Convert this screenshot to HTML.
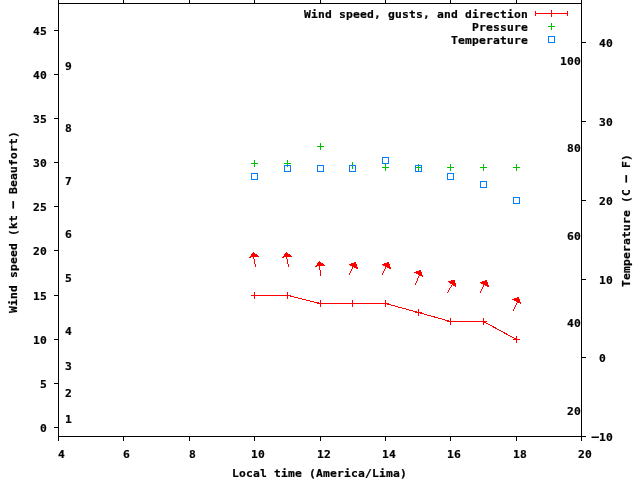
<!DOCTYPE html>
<html><head><meta charset="utf-8">
<style>
html,body{margin:0;padding:0;background:#fff;}
body{width:640px;height:480px;position:relative;overflow:hidden;}
svg{position:absolute;left:0;top:0;}
.t{position:absolute;font-family:'DejaVu Sans Mono','Liberation Mono',monospace;font-weight:bold;font-size:11.3px;letter-spacing:0.197px;line-height:13px;white-space:pre;color:#000;-webkit-text-stroke:0.2px #000;}
.r{transform-origin:0 0;transform:rotate(-90deg);}
.h{display:inline-block;transform:translateY(-1px) scaleX(2);}
</style></head><body>
<svg width="640" height="480" viewBox="0 0 640 480" shape-rendering="crispEdges">
<rect x="58" y="3" width="524" height="1" fill="#000"/>
<rect x="58" y="436" width="524" height="1" fill="#000"/>
<rect x="58" y="3" width="1" height="434" fill="#000"/>
<rect x="581" y="3" width="1" height="434" fill="#000"/>
<rect x="58" y="437" width="1" height="4" fill="#000"/>
<rect x="58" y="0" width="1" height="3" fill="#000"/>
<rect x="123" y="437" width="1" height="4" fill="#000"/>
<rect x="123" y="0" width="1" height="3" fill="#000"/>
<rect x="189" y="437" width="1" height="4" fill="#000"/>
<rect x="189" y="0" width="1" height="3" fill="#000"/>
<rect x="254" y="437" width="1" height="4" fill="#000"/>
<rect x="254" y="0" width="1" height="3" fill="#000"/>
<rect x="320" y="437" width="1" height="4" fill="#000"/>
<rect x="320" y="0" width="1" height="3" fill="#000"/>
<rect x="385" y="437" width="1" height="4" fill="#000"/>
<rect x="385" y="0" width="1" height="3" fill="#000"/>
<rect x="450" y="437" width="1" height="4" fill="#000"/>
<rect x="450" y="0" width="1" height="3" fill="#000"/>
<rect x="516" y="437" width="1" height="4" fill="#000"/>
<rect x="516" y="0" width="1" height="3" fill="#000"/>
<rect x="581" y="437" width="1" height="4" fill="#000"/>
<rect x="581" y="0" width="1" height="3" fill="#000"/>
<rect x="54" y="427" width="4" height="1" fill="#000"/>
<rect x="54" y="383" width="4" height="1" fill="#000"/>
<rect x="54" y="339" width="4" height="1" fill="#000"/>
<rect x="54" y="295" width="4" height="1" fill="#000"/>
<rect x="54" y="250" width="4" height="1" fill="#000"/>
<rect x="54" y="206" width="4" height="1" fill="#000"/>
<rect x="54" y="162" width="4" height="1" fill="#000"/>
<rect x="54" y="118" width="4" height="1" fill="#000"/>
<rect x="54" y="74" width="4" height="1" fill="#000"/>
<rect x="54" y="30" width="4" height="1" fill="#000"/>
<rect x="582" y="436" width="4" height="1" fill="#000"/>
<rect x="582" y="357" width="4" height="1" fill="#000"/>
<rect x="582" y="279" width="4" height="1" fill="#000"/>
<rect x="582" y="200" width="4" height="1" fill="#000"/>
<rect x="582" y="121" width="4" height="1" fill="#000"/>
<rect x="582" y="42" width="4" height="1" fill="#000"/>
<polyline points="254.5,295.5 287.5,295.5 320.5,303.5 352.5,303.5 385.5,303.5 418.5,312.5 450.5,321.5 483.5,321.5 516.5,339.5" fill="none" stroke="#ff0000" stroke-width="1"/>
<rect x="251" y="295" width="7" height="1" fill="#ff0000"/>
<rect x="254" y="292" width="1" height="7" fill="#ff0000"/>
<rect x="284" y="295" width="7" height="1" fill="#ff0000"/>
<rect x="287" y="292" width="1" height="7" fill="#ff0000"/>
<rect x="317" y="303" width="7" height="1" fill="#ff0000"/>
<rect x="320" y="300" width="1" height="7" fill="#ff0000"/>
<rect x="349" y="303" width="7" height="1" fill="#ff0000"/>
<rect x="352" y="300" width="1" height="7" fill="#ff0000"/>
<rect x="382" y="303" width="7" height="1" fill="#ff0000"/>
<rect x="385" y="300" width="1" height="7" fill="#ff0000"/>
<rect x="415" y="312" width="7" height="1" fill="#ff0000"/>
<rect x="418" y="309" width="1" height="7" fill="#ff0000"/>
<rect x="447" y="321" width="7" height="1" fill="#ff0000"/>
<rect x="450" y="318" width="1" height="7" fill="#ff0000"/>
<rect x="480" y="321" width="7" height="1" fill="#ff0000"/>
<rect x="483" y="318" width="1" height="7" fill="#ff0000"/>
<rect x="513" y="339" width="7" height="1" fill="#ff0000"/>
<rect x="516" y="336" width="1" height="7" fill="#ff0000"/>
<rect x="253" y="252" width="1" height="1" fill="#ff0000"/>
<rect x="252" y="253" width="3" height="1" fill="#ff0000"/>
<rect x="251" y="254" width="6" height="1" fill="#ff0000"/>
<rect x="251" y="255" width="7" height="1" fill="#ff0000"/>
<rect x="250" y="256" width="9" height="1" fill="#ff0000"/>
<rect x="249" y="257" width="2" height="1" fill="#ff0000"/>
<rect x="253" y="257" width="1" height="1" fill="#ff0000"/>
<rect x="253" y="258" width="1" height="1" fill="#ff0000"/>
<rect x="254" y="259" width="1" height="1" fill="#ff0000"/>
<rect x="254" y="260" width="1" height="1" fill="#ff0000"/>
<rect x="254" y="261" width="1" height="1" fill="#ff0000"/>
<rect x="254" y="262" width="1" height="1" fill="#ff0000"/>
<rect x="254" y="263" width="1" height="1" fill="#ff0000"/>
<rect x="255" y="264" width="1" height="1" fill="#ff0000"/>
<rect x="255" y="265" width="1" height="1" fill="#ff0000"/>
<rect x="255" y="266" width="1" height="1" fill="#ff0000"/>
<rect x="286" y="252" width="1" height="1" fill="#ff0000"/>
<rect x="285" y="253" width="3" height="1" fill="#ff0000"/>
<rect x="284" y="254" width="6" height="1" fill="#ff0000"/>
<rect x="284" y="255" width="7" height="1" fill="#ff0000"/>
<rect x="283" y="256" width="9" height="1" fill="#ff0000"/>
<rect x="282" y="257" width="2" height="1" fill="#ff0000"/>
<rect x="286" y="257" width="1" height="1" fill="#ff0000"/>
<rect x="286" y="258" width="1" height="1" fill="#ff0000"/>
<rect x="287" y="259" width="1" height="1" fill="#ff0000"/>
<rect x="287" y="260" width="1" height="1" fill="#ff0000"/>
<rect x="287" y="261" width="1" height="1" fill="#ff0000"/>
<rect x="287" y="262" width="1" height="1" fill="#ff0000"/>
<rect x="287" y="263" width="1" height="1" fill="#ff0000"/>
<rect x="288" y="264" width="1" height="1" fill="#ff0000"/>
<rect x="288" y="265" width="1" height="1" fill="#ff0000"/>
<rect x="288" y="266" width="1" height="1" fill="#ff0000"/>
<rect x="319" y="261" width="1" height="1" fill="#ff0000"/>
<rect x="318" y="262" width="3" height="1" fill="#ff0000"/>
<rect x="317" y="263" width="6" height="1" fill="#ff0000"/>
<rect x="317" y="264" width="7" height="1" fill="#ff0000"/>
<rect x="316" y="265" width="9" height="1" fill="#ff0000"/>
<rect x="315" y="266" width="2" height="1" fill="#ff0000"/>
<rect x="319" y="266" width="1" height="1" fill="#ff0000"/>
<rect x="319" y="267" width="1" height="1" fill="#ff0000"/>
<rect x="319" y="268" width="1" height="1" fill="#ff0000"/>
<rect x="319" y="269" width="1" height="1" fill="#ff0000"/>
<rect x="320" y="270" width="1" height="1" fill="#ff0000"/>
<rect x="320" y="271" width="1" height="1" fill="#ff0000"/>
<rect x="320" y="272" width="1" height="1" fill="#ff0000"/>
<rect x="320" y="273" width="1" height="1" fill="#ff0000"/>
<rect x="320" y="274" width="1" height="1" fill="#ff0000"/>
<rect x="320" y="275" width="1" height="1" fill="#ff0000"/>
<rect x="354" y="262" width="2" height="1" fill="#ff0000"/>
<rect x="351" y="263" width="5" height="1" fill="#ff0000"/>
<rect x="349" y="264" width="8" height="1" fill="#ff0000"/>
<rect x="350" y="265" width="7" height="1" fill="#ff0000"/>
<rect x="352" y="266" width="5" height="1" fill="#ff0000"/>
<rect x="352" y="267" width="1" height="1" fill="#ff0000"/>
<rect x="354" y="267" width="4" height="1" fill="#ff0000"/>
<rect x="352" y="268" width="1" height="1" fill="#ff0000"/>
<rect x="356" y="268" width="2" height="1" fill="#ff0000"/>
<rect x="351" y="269" width="1" height="1" fill="#ff0000"/>
<rect x="351" y="270" width="1" height="1" fill="#ff0000"/>
<rect x="350" y="271" width="1" height="1" fill="#ff0000"/>
<rect x="350" y="272" width="1" height="1" fill="#ff0000"/>
<rect x="349" y="273" width="1" height="1" fill="#ff0000"/>
<rect x="349" y="274" width="1" height="1" fill="#ff0000"/>
<rect x="387" y="262" width="2" height="1" fill="#ff0000"/>
<rect x="384" y="263" width="5" height="1" fill="#ff0000"/>
<rect x="382" y="264" width="8" height="1" fill="#ff0000"/>
<rect x="383" y="265" width="7" height="1" fill="#ff0000"/>
<rect x="385" y="266" width="5" height="1" fill="#ff0000"/>
<rect x="385" y="267" width="1" height="1" fill="#ff0000"/>
<rect x="387" y="267" width="4" height="1" fill="#ff0000"/>
<rect x="385" y="268" width="1" height="1" fill="#ff0000"/>
<rect x="389" y="268" width="2" height="1" fill="#ff0000"/>
<rect x="384" y="269" width="1" height="1" fill="#ff0000"/>
<rect x="384" y="270" width="1" height="1" fill="#ff0000"/>
<rect x="383" y="271" width="1" height="1" fill="#ff0000"/>
<rect x="383" y="272" width="1" height="1" fill="#ff0000"/>
<rect x="382" y="273" width="1" height="1" fill="#ff0000"/>
<rect x="382" y="274" width="1" height="1" fill="#ff0000"/>
<rect x="485" y="280" width="2" height="1" fill="#ff0000"/>
<rect x="482" y="281" width="5" height="1" fill="#ff0000"/>
<rect x="480" y="282" width="8" height="1" fill="#ff0000"/>
<rect x="481" y="283" width="7" height="1" fill="#ff0000"/>
<rect x="483" y="284" width="5" height="1" fill="#ff0000"/>
<rect x="483" y="285" width="1" height="1" fill="#ff0000"/>
<rect x="485" y="285" width="4" height="1" fill="#ff0000"/>
<rect x="483" y="286" width="1" height="1" fill="#ff0000"/>
<rect x="487" y="286" width="2" height="1" fill="#ff0000"/>
<rect x="482" y="287" width="1" height="1" fill="#ff0000"/>
<rect x="482" y="288" width="1" height="1" fill="#ff0000"/>
<rect x="481" y="289" width="1" height="1" fill="#ff0000"/>
<rect x="481" y="290" width="1" height="1" fill="#ff0000"/>
<rect x="480" y="291" width="1" height="1" fill="#ff0000"/>
<rect x="480" y="292" width="1" height="1" fill="#ff0000"/>
<rect x="419" y="270" width="2" height="1" fill="#ff0000"/>
<rect x="416" y="271" width="5" height="1" fill="#ff0000"/>
<rect x="414" y="272" width="8" height="1" fill="#ff0000"/>
<rect x="416" y="273" width="6" height="1" fill="#ff0000"/>
<rect x="418" y="274" width="4" height="1" fill="#ff0000"/>
<rect x="419" y="275" width="4" height="1" fill="#ff0000"/>
<rect x="418" y="276" width="1" height="1" fill="#ff0000"/>
<rect x="422" y="276" width="1" height="1" fill="#ff0000"/>
<rect x="418" y="277" width="1" height="1" fill="#ff0000"/>
<rect x="417" y="278" width="1" height="1" fill="#ff0000"/>
<rect x="417" y="279" width="1" height="1" fill="#ff0000"/>
<rect x="417" y="280" width="1" height="1" fill="#ff0000"/>
<rect x="416" y="281" width="1" height="1" fill="#ff0000"/>
<rect x="416" y="282" width="1" height="1" fill="#ff0000"/>
<rect x="415" y="283" width="1" height="1" fill="#ff0000"/>
<rect x="415" y="284" width="1" height="1" fill="#ff0000"/>
<rect x="451" y="280" width="4" height="1" fill="#ff0000"/>
<rect x="448" y="281" width="7" height="1" fill="#ff0000"/>
<rect x="449" y="282" width="6" height="1" fill="#ff0000"/>
<rect x="450" y="283" width="6" height="1" fill="#ff0000"/>
<rect x="452" y="284" width="4" height="1" fill="#ff0000"/>
<rect x="451" y="285" width="1" height="1" fill="#ff0000"/>
<rect x="453" y="285" width="3" height="1" fill="#ff0000"/>
<rect x="451" y="286" width="1" height="1" fill="#ff0000"/>
<rect x="455" y="286" width="1" height="1" fill="#ff0000"/>
<rect x="450" y="287" width="1" height="1" fill="#ff0000"/>
<rect x="449" y="288" width="1" height="1" fill="#ff0000"/>
<rect x="449" y="289" width="1" height="1" fill="#ff0000"/>
<rect x="448" y="290" width="1" height="1" fill="#ff0000"/>
<rect x="448" y="291" width="1" height="1" fill="#ff0000"/>
<rect x="447" y="292" width="1" height="1" fill="#ff0000"/>
<rect x="517" y="297" width="2" height="1" fill="#ff0000"/>
<rect x="514" y="298" width="5" height="1" fill="#ff0000"/>
<rect x="512" y="299" width="8" height="1" fill="#ff0000"/>
<rect x="514" y="300" width="6" height="1" fill="#ff0000"/>
<rect x="516" y="301" width="4" height="1" fill="#ff0000"/>
<rect x="517" y="302" width="4" height="1" fill="#ff0000"/>
<rect x="516" y="303" width="1" height="1" fill="#ff0000"/>
<rect x="520" y="303" width="1" height="1" fill="#ff0000"/>
<rect x="516" y="304" width="1" height="1" fill="#ff0000"/>
<rect x="515" y="305" width="1" height="1" fill="#ff0000"/>
<rect x="515" y="306" width="1" height="1" fill="#ff0000"/>
<rect x="514" y="307" width="1" height="1" fill="#ff0000"/>
<rect x="514" y="308" width="1" height="1" fill="#ff0000"/>
<rect x="513" y="309" width="1" height="1" fill="#ff0000"/>
<rect x="513" y="310" width="1" height="1" fill="#ff0000"/>
<rect x="251" y="163" width="7" height="1" fill="#00c000"/>
<rect x="254" y="160" width="1" height="7" fill="#00c000"/>
<rect x="284" y="163" width="7" height="1" fill="#00c000"/>
<rect x="287" y="160" width="1" height="7" fill="#00c000"/>
<rect x="317" y="146" width="7" height="1" fill="#00c000"/>
<rect x="320" y="143" width="1" height="7" fill="#00c000"/>
<rect x="349" y="165" width="7" height="1" fill="#00c000"/>
<rect x="352" y="162" width="1" height="7" fill="#00c000"/>
<rect x="382" y="167" width="7" height="1" fill="#00c000"/>
<rect x="385" y="164" width="1" height="7" fill="#00c000"/>
<rect x="415" y="167" width="7" height="1" fill="#00c000"/>
<rect x="418" y="164" width="1" height="7" fill="#00c000"/>
<rect x="447" y="167" width="7" height="1" fill="#00c000"/>
<rect x="450" y="164" width="1" height="7" fill="#00c000"/>
<rect x="480" y="167" width="7" height="1" fill="#00c000"/>
<rect x="483" y="164" width="1" height="7" fill="#00c000"/>
<rect x="513" y="167" width="7" height="1" fill="#00c000"/>
<rect x="516" y="164" width="1" height="7" fill="#00c000"/>
<rect x="251" y="173" width="7" height="1" fill="#0080ff"/>
<rect x="251" y="179" width="7" height="1" fill="#0080ff"/>
<rect x="251" y="173" width="1" height="7" fill="#0080ff"/>
<rect x="257" y="173" width="1" height="7" fill="#0080ff"/>
<rect x="284" y="165" width="7" height="1" fill="#0080ff"/>
<rect x="284" y="171" width="7" height="1" fill="#0080ff"/>
<rect x="284" y="165" width="1" height="7" fill="#0080ff"/>
<rect x="290" y="165" width="1" height="7" fill="#0080ff"/>
<rect x="317" y="165" width="7" height="1" fill="#0080ff"/>
<rect x="317" y="171" width="7" height="1" fill="#0080ff"/>
<rect x="317" y="165" width="1" height="7" fill="#0080ff"/>
<rect x="323" y="165" width="1" height="7" fill="#0080ff"/>
<rect x="349" y="165" width="7" height="1" fill="#0080ff"/>
<rect x="349" y="171" width="7" height="1" fill="#0080ff"/>
<rect x="349" y="165" width="1" height="7" fill="#0080ff"/>
<rect x="355" y="165" width="1" height="7" fill="#0080ff"/>
<rect x="382" y="157" width="7" height="1" fill="#0080ff"/>
<rect x="382" y="163" width="7" height="1" fill="#0080ff"/>
<rect x="382" y="157" width="1" height="7" fill="#0080ff"/>
<rect x="388" y="157" width="1" height="7" fill="#0080ff"/>
<rect x="415" y="165" width="7" height="1" fill="#0080ff"/>
<rect x="415" y="171" width="7" height="1" fill="#0080ff"/>
<rect x="415" y="165" width="1" height="7" fill="#0080ff"/>
<rect x="421" y="165" width="1" height="7" fill="#0080ff"/>
<rect x="447" y="173" width="7" height="1" fill="#0080ff"/>
<rect x="447" y="179" width="7" height="1" fill="#0080ff"/>
<rect x="447" y="173" width="1" height="7" fill="#0080ff"/>
<rect x="453" y="173" width="1" height="7" fill="#0080ff"/>
<rect x="480" y="181" width="7" height="1" fill="#0080ff"/>
<rect x="480" y="187" width="7" height="1" fill="#0080ff"/>
<rect x="480" y="181" width="1" height="7" fill="#0080ff"/>
<rect x="486" y="181" width="1" height="7" fill="#0080ff"/>
<rect x="513" y="197" width="7" height="1" fill="#0080ff"/>
<rect x="513" y="203" width="7" height="1" fill="#0080ff"/>
<rect x="513" y="197" width="1" height="7" fill="#0080ff"/>
<rect x="519" y="197" width="1" height="7" fill="#0080ff"/>
<rect x="535" y="13" width="33" height="1" fill="#ff0000"/>
<rect x="535" y="11" width="1" height="5" fill="#ff0000"/>
<rect x="567" y="11" width="1" height="5" fill="#ff0000"/>
<rect x="551" y="10" width="1" height="7" fill="#ff0000"/>
<rect x="548" y="26" width="7" height="1" fill="#00c000"/>
<rect x="551" y="23" width="1" height="7" fill="#00c000"/>
<rect x="548" y="36" width="7" height="1" fill="#0080ff"/>
<rect x="548" y="42" width="7" height="1" fill="#0080ff"/>
<rect x="548" y="36" width="1" height="7" fill="#0080ff"/>
<rect x="554" y="36" width="1" height="7" fill="#0080ff"/>
</svg>
<div class="t" style="left:40px;top:422px">0</div>
<div class="t" style="left:40px;top:378px">5</div>
<div class="t" style="left:33px;top:334px">10</div>
<div class="t" style="left:33px;top:290px">15</div>
<div class="t" style="left:33px;top:245px">20</div>
<div class="t" style="left:33px;top:201px">25</div>
<div class="t" style="left:33px;top:157px">30</div>
<div class="t" style="left:33px;top:113px">35</div>
<div class="t" style="left:33px;top:69px">40</div>
<div class="t" style="left:33px;top:25px">45</div>
<div class="t" style="left:592px;top:431px"><span class="h">-</span>10</div>
<div class="t" style="left:599px;top:352px">0</div>
<div class="t" style="left:599px;top:274px">10</div>
<div class="t" style="left:599px;top:195px">20</div>
<div class="t" style="left:599px;top:116px">30</div>
<div class="t" style="left:599px;top:37px">40</div>
<div class="t" style="left:58px;top:448px">4</div>
<div class="t" style="left:123px;top:448px">6</div>
<div class="t" style="left:189px;top:448px">8</div>
<div class="t" style="left:251px;top:448px">10</div>
<div class="t" style="left:317px;top:448px">12</div>
<div class="t" style="left:382px;top:448px">14</div>
<div class="t" style="left:447px;top:448px">16</div>
<div class="t" style="left:513px;top:448px">18</div>
<div class="t" style="left:578px;top:448px">20</div>
<div class="t" style="left:65px;top:413px">1</div>
<div class="t" style="left:65px;top:387px">2</div>
<div class="t" style="left:65px;top:360px">3</div>
<div class="t" style="left:65px;top:325px">4</div>
<div class="t" style="left:65px;top:272px">5</div>
<div class="t" style="left:65px;top:228px">6</div>
<div class="t" style="left:65px;top:175px">7</div>
<div class="t" style="left:65px;top:122px">8</div>
<div class="t" style="left:65px;top:60px">9</div>
<div class="t" style="left:567px;top:405px">20</div>
<div class="t" style="left:567px;top:317px">40</div>
<div class="t" style="left:567px;top:230px">60</div>
<div class="t" style="left:567px;top:142px">80</div>
<div class="t" style="left:560px;top:55px">100</div>
<div class="t" style="left:304px;top:8px">Wind speed, gusts, and direction</div>
<div class="t" style="left:472px;top:21px">Pressure</div>
<div class="t" style="left:451px;top:34px">Temperature</div>
<div class="t" style="left:232px;top:467px">Local time (America/Lima)</div>
<div class="t r" style="left:7px;top:313px">Wind speed (kt <span class="h">-</span> Beaufort)</div>
<div class="t r" style="left:620px;top:287px">Temperature (C <span class="h">-</span> F)</div>
</body></html>
